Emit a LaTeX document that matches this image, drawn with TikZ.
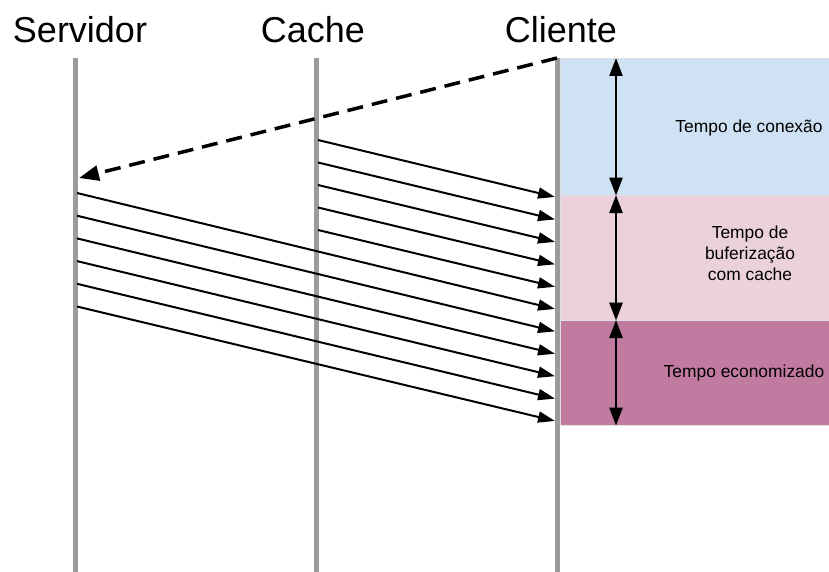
\documentclass[tikz,border=0pt]{standalone}
\usepackage{fontspec}
\setmainfont{Liberation Sans}
\usetikzlibrary{arrows.meta,positioning}

\definecolor{lifegray}{HTML}{9C9C9C}
\definecolor{connblue}{HTML}{CFE2F3}
\definecolor{bufpink}{HTML}{EAD1DC}
\definecolor{savedpink}{HTML}{C27BA0}

\begin{document}
\begin{tikzpicture}[
    x=1pt, y=-1pt,
    title/.style={font=\fontsize{36}{40}\selectfont, anchor=base},
    lifeline/.style={draw=lifegray, line width=5pt},
    band/.style={rectangle, draw=black!12, line width=0.6pt, anchor=north west, inner sep=0pt, minimum width=269pt},
    note/.style={font=\fontsize{17.4}{21}\selectfont, align=center},
    msg/.style={draw, line width=2pt, -{Triangle[length=17pt,width=11pt]}},
    request/.style={draw, line width=3.5pt, dash pattern=on 16pt off 9pt, -{Triangle[length=20pt,width=15pt]}},
    span/.style={draw, line width=2.5pt, {Triangle[length=18pt,width=13pt]}-{Triangle[length=18pt,width=13pt]}}
]
\useasboundingbox (0,0) rectangle (829,572);

% Time bands on the client side
\node [band, fill=connblue, minimum height=137pt] (conn) at (560,58) {};
\node [band, fill=bufpink, minimum height=125pt] (buf) at (560,195) {};
\node [band, fill=savedpink, minimum height=105pt] (saved) at (560,320) {};

% Titles
\node [title] (srv) at (80,43) {Servidor};
\node [title] (cch) at (313,43) {Cache};
\node [title] (cli) at (561,43) {Cliente};

% Lifelines
\foreach \n/\x in {srv/75, cch/316, cli/557} {
    \coordinate (\n-top) at (\x,58);
    \coordinate (\n-bot) at (\x,572);
    \draw [lifeline] (\n-top) -- (\n-bot);
}

% Request from the client to the server
\coordinate (req) at (79,178);
\draw [request] (cli-top) -- (req);

% Packets sent by the cache
\foreach \i in {0,...,4} {
    \coordinate (c\i) at (318,{140+22.5*\i});
    \coordinate (rc\i) at (555,{197+22.45*\i});
    \draw [msg] (c\i) -- (rc\i);
}

% Packets sent by the server
\foreach \i in {0,...,5} {
    \coordinate (s\i) at (77,{193+22.7*\i});
    \coordinate (rs\i) at (555,{309+22.4*\i});
    \draw [msg] (s\i) -- (rs\i);
}

% Durations
\draw [span] ([xshift=56pt]conn.north west) -- ([xshift=56pt]conn.south west);
\draw [span] ([xshift=56pt]buf.north west) -- ([xshift=56pt]buf.south west);
\draw [span] ([xshift=56pt]saved.north west) -- ([xshift=56pt]saved.south west);

\node [note, anchor=base] (connlbl) at (749,133) {Tempo de conexão};
\node [note] (buflbl) at (750,253) {Tempo de\\buferização\\com cache};
\node [note, anchor=base] (savedlbl) at (744,377) {Tempo economizado};

\end{tikzpicture}
\end{document}
